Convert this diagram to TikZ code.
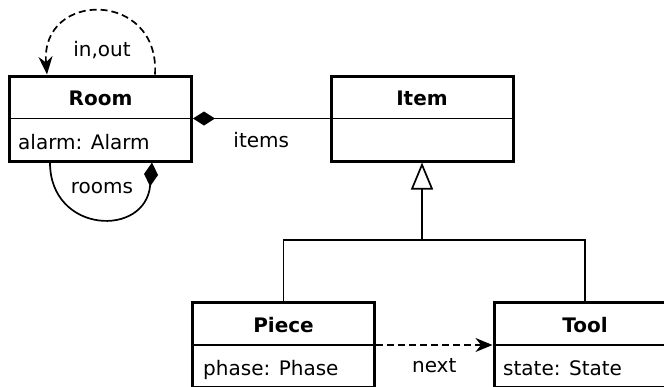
\documentclass[tikz,border=0pt]{standalone}
\usepackage{fontspec}
\setmainfont{DejaVu Sans}
\usetikzlibrary{positioning,arrows.meta}

\begin{document}
\begin{tikzpicture}[x=1pt, y=-1pt]
	\tikzstyle{every node}=[font=\fontsize{20}{24}\selectfont, inner sep=1pt]
	\tikzstyle{cls}=[draw, line width=3pt, minimum width=182pt, minimum height=85pt, inner sep=0pt]
	\tikzstyle{title}=[font=\fontsize{20}{24}\selectfont\bfseries, anchor=base]
	\tikzstyle{attr}=[anchor=base west]
	\tikzstyle{sep}=[line width=1.6pt]
	\tikzstyle{conn}=[line width=1.7pt]

	\clip (0,0) rectangle (664,386);

	% classes
	\node[cls] (room)  at (100.5, 118.5) {};
	\node[cls] (item)  at (422, 118.5)   {};
	\node[cls] (piece) at (283.5, 345)   {};
	\node[cls] (tool)  at (585, 345)     {};

	\node[title] (roomT)  at (100.5, 105) {Room};
	\node[title] (itemT)  at (422, 105)   {Item};
	\node[title] (pieceT) at (283.5, 332) {Piece};
	\node[title] (toolT)  at (585, 332)   {Tool};

	\node[attr] (roomA)  at (17, 149)  {alarm: Alarm};
	\node[attr] (pieceA) at (202, 375) {phase: Phase};
	\node[attr] (toolA)  at (502, 375) {state: State};

	\draw [sep] (room.west) -- (room.east);
	\draw [sep] (item.west) -- (item.east);
	\draw [sep] (piece.west) -- (piece.east);
	\draw [sep] (tool.west) -- (tool.east);

	% associations
	\draw [conn, {Diamond[length=22pt, width=14pt]}-] (room.east) -- (item.west)
		node[midway, yshift=-22pt] (itemsL) {items};
	\draw [conn, dashed, dash pattern=on 7pt off 4pt, -{Stealth[length=17pt, width=14pt]}] (piece.east) -- (tool.west)
		node[midway, yshift=-21pt] (nextL) {next};

	\draw [conn, dashed, dash pattern=on 7pt off 4pt, -{Stealth[length=18pt, width=14pt]}]
		([xshift=147pt]room.north west) .. controls (160,-10) and (40,-10) .. ([xshift=39pt]room.north west);
	\node (inoutL) at (102, 50) {in,out};

	\draw [conn, {Diamond[length=24pt, width=14pt]}-]
		([xshift=144pt]room.south west) .. controls (146,238) and (50,234) .. ([xshift=42pt]room.south west);
	\node (roomsL) at (102, 188) {rooms};

	% generalization
	\coordinate (fork) at (422, 240);
	\draw [conn] (piece.north) |- (fork) -| (tool.north);
	\draw [conn, -{Triangle[open, length=27pt, width=22pt]}] (fork) -- (item.south);
\end{tikzpicture}
\end{document}
